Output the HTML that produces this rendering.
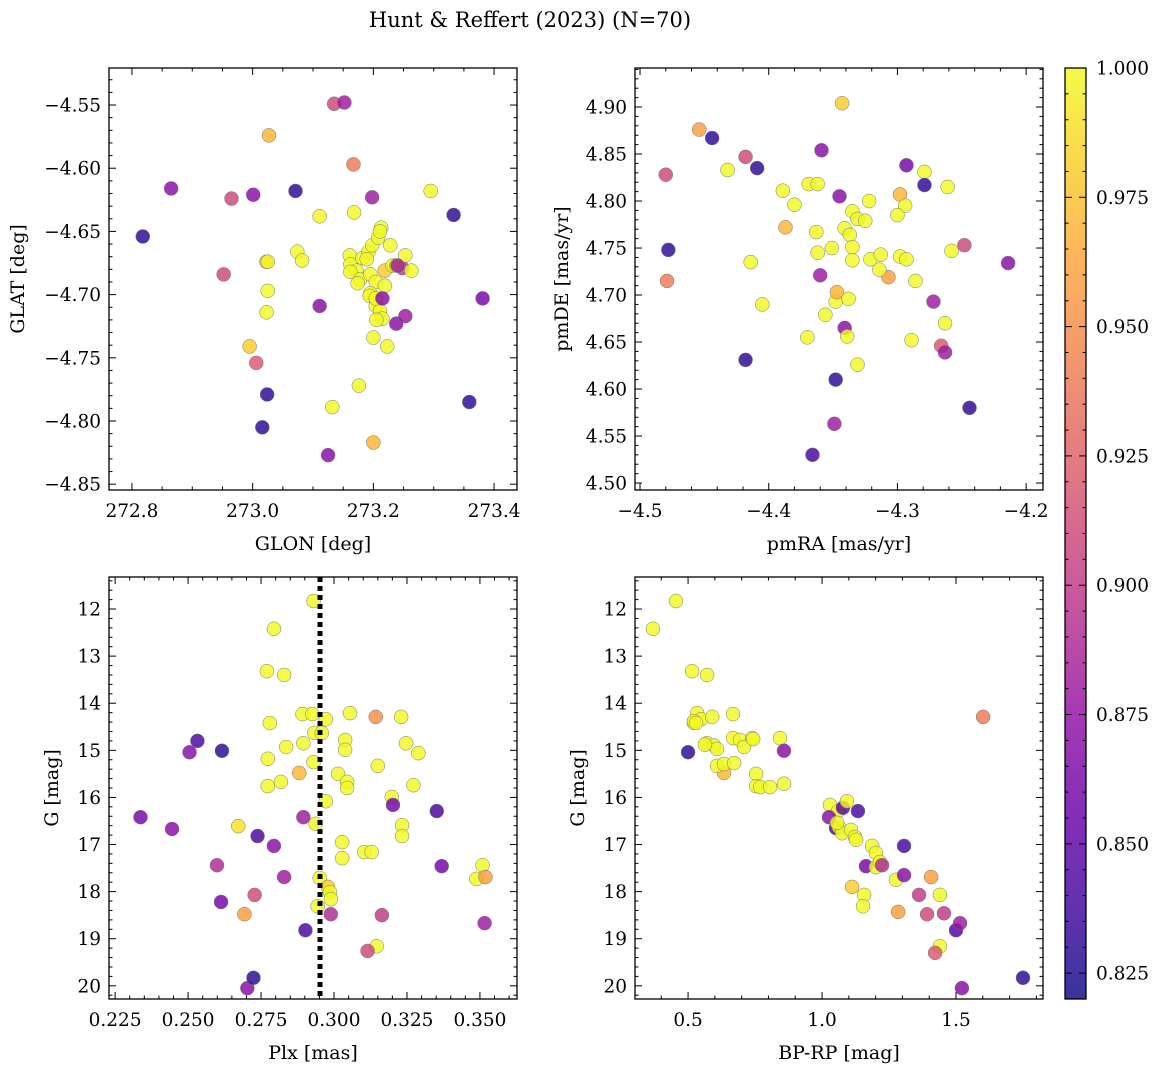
<!DOCTYPE html>
<html><head><meta charset="utf-8">
<style>
html,body{margin:0;padding:0;background:#fff;}
svg{display:block;font-family:"DejaVu Serif","Liberation Serif",serif;}
</style></head>
<body>
<svg id="chart" width="1161" height="1067" viewBox="0 0 1161 1067" xmlns="http://www.w3.org/2000/svg">
<defs>
<linearGradient id="plasma" x1="0" y1="1" x2="0" y2="0">
<stop offset="0" stop-color="#0d0887"/><stop offset="0.1" stop-color="#41049d"/><stop offset="0.2" stop-color="#6a00a8"/><stop offset="0.3" stop-color="#8f0da4"/><stop offset="0.4" stop-color="#b12a90"/><stop offset="0.5" stop-color="#cc4778"/><stop offset="0.6" stop-color="#e16462"/><stop offset="0.7" stop-color="#f2844b"/><stop offset="0.8" stop-color="#fca636"/><stop offset="0.9" stop-color="#fcce25"/><stop offset="1" stop-color="#f0f921"/>
</linearGradient>
</defs>
<text x="530" y="27" font-size="21" text-anchor="middle">Hunt &amp; Reffert (2023) (N=70)</text>
</svg>
<script>
// ---- data (panel 1: GLON/GLAT) ----
const p1Glon=[272.818,272.865,272.965,273.001,273.071,272.952,273.027,273.135,273.152,273.167,273.198,273.295,273.333,273.111,273.168,273.074,273.082,273.023,273.025,273.025,273.023,273.111,273.381,272.995,273.006,273.024,273.016,273.132,273.176,273.125,273.200,273.359,273.200,273.223,273.161,273.162,273.172,273.182,273.192,273.198,273.208,273.213,273.211,273.228,273.162,273.178,273.195,273.204,273.219,273.232,273.248,273.253,273.263,273.238,273.195,273.204,273.211,273.215,273.205,273.174,273.189,273.194,273.204,273.219,273.215,273.238,273.253,273.240];
const p1Glat=[-4.654,-4.616,-4.624,-4.621,-4.618,-4.684,-4.574,-4.549,-4.548,-4.597,-4.623,-4.618,-4.637,-4.638,-4.635,-4.666,-4.673,-4.674,-4.674,-4.697,-4.714,-4.709,-4.703,-4.741,-4.754,-4.779,-4.805,-4.789,-4.772,-4.827,-4.817,-4.785,-4.734,-4.741,-4.669,-4.676,-4.681,-4.671,-4.666,-4.661,-4.655,-4.647,-4.650,-4.661,-4.682,-4.688,-4.684,-4.690,-4.681,-4.677,-4.679,-4.669,-4.681,-4.677,-4.699,-4.709,-4.713,-4.719,-4.720,-4.691,-4.672,-4.701,-4.703,-4.693,-4.703,-4.723,-4.717,-4.677];
const p1Prob=[.83,.87,.91,.87,.83,.91,.97,.91,.88,.94,.88,1,.83,1,1,1,1,.97,1,1,1,.87,.86,.98,.92,.83,.83,1,1,.87,.97,.83,1,1,1,1,1,1,1,1,1,1,1,1,1,1,1,1,.98,1,.9,1,1,1,1,1,1,1,1,1,1,1,1,1,.87,.87,.88,.88];
// ---- data (panel 2: pmRA/pmDE) ----
const p2PmRA=[-4.478,-4.479,-4.480,-4.454,-4.444,-4.432,-4.418,-4.409,-4.389,-4.380,-4.387,-4.369,-4.362,-4.359,-4.343,-4.345,-4.335,-4.331,-4.325,-4.322,-4.341,-4.363,-4.351,-4.362,-4.360,-4.337,-4.335,-4.335,-4.321,-4.313,-4.307,-4.314,-4.298,-4.293,-4.298,-4.294,-4.300,-4.293,-4.279,-4.279,-4.261,-4.286,-4.258,-4.248,-4.214,-4.272,-4.266,-4.263,-4.263,-4.289,-4.244,-4.348,-4.349,-4.366,-4.418,-4.414,-4.405,-4.370,-4.356,-4.348,-4.347,-4.341,-4.339,-4.338,-4.331];
const p2PmDE=[4.748,4.715,4.828,4.876,4.867,4.833,4.847,4.835,4.811,4.796,4.772,4.818,4.818,4.854,4.904,4.805,4.789,4.781,4.779,4.800,4.771,4.767,4.750,4.745,4.721,4.764,4.751,4.737,4.738,4.743,4.719,4.727,4.741,4.738,4.807,4.795,4.785,4.838,4.831,4.817,4.815,4.715,4.747,4.753,4.734,4.693,4.646,4.639,4.670,4.652,4.580,4.610,4.563,4.530,4.631,4.735,4.690,4.655,4.679,4.693,4.703,4.665,4.656,4.696,4.626];
const p2Prob=[.83,.94,.91,.96,.83,1,.91,.83,1,1,.97,1,1,.87,.98,.87,1,1,1,1,1,1,1,1,.88,1,1,1,1,1,.96,1,1,1,.97,1,1,.86,1,.83,1,1,1,.91,.87,.88,.92,.88,1,1,.83,.83,.88,.84,.83,1,1,1,1,1,.97,.87,1,1,1];
// ---- data (panel 3: Plx/G) ----
const p3Plx=[.2337,.2445,.2505,.2532,.2616,.2599,.2613,.2693,.2728,.2738,.2703,.2724,.2672,.2794,.2770,.2829,.2780,.2773,.2773,.2836,.2818,.2794,.2829,.2881,.2892,.2895,.2926,.2933,.2930,.2895,.2902,.2930,.2937,.2951,.2944,.2972,.2972,.2979,.2986,.2989,.2989,.2958,.3014,.3028,.3028,.3038,.3038,.3045,.3045,.3055,.3104,.3129,.3143,.3150,.3164,.3146,.3115,.3198,.3202,.3230,.3233,.3233,.3247,.3289,.3272,.3352,.3369,.3488,.3509,.3519,.3516];
const p3G=[16.42,16.67,15.04,14.80,15.01,17.44,18.22,18.48,18.07,16.82,20.05,19.83,16.61,12.42,13.32,13.40,14.42,15.18,15.76,14.93,15.67,17.03,17.69,15.48,14.23,14.85,14.23,14.63,15.25,16.42,18.82,11.83,16.56,17.71,18.31,14.34,16.08,17.90,18.01,18.48,18.16,14.63,15.50,16.95,17.29,14.78,14.99,15.67,15.80,14.21,17.16,17.16,14.29,15.33,18.50,19.16,19.26,15.99,16.16,14.29,16.59,16.82,14.85,15.06,15.74,16.29,17.46,17.73,17.44,17.69,18.67];
const p3Prob=[.86,.87,.87,.84,.83,.89,.86,.96,.91,.84,.87,.83,.99,1,1,1,1,1,1,1,1,.87,.88,.97,1,1,1,1,1,.88,.84,1,1,1,1,1,1,.98,1,.89,1,1,1,1,1,1,1,1,1,1,1,1,.95,1,.9,1,.91,1,.86,1,1,1,1,1,1,.84,.86,1,1,.96,.88];
const plxLine=[0.2952];
// ---- data (panel 4: BP-RP/G) ----
const p4BpRp=[.369,.455,.515,.571,.534,.522,.549,.590,.522,.530,.571,.597,.608,.563,.500,.634,.608,.634,.672,.668,.668,.694,.739,.709,.743,.754,.754,.769,.806,.858,.843,.858,1.030,1.060,1.078,1.093,1.026,1.052,1.063,1.075,1.108,1.123,1.127,1.056,1.134,1.164,1.201,1.187,1.201,1.216,1.224,1.276,1.306,1.306,1.284,1.407,1.362,1.392,1.440,1.455,1.440,1.422,1.500,1.515,1.522,1.601,1.750,1.157,1.153,1.112];
const p4G=[12.42,11.83,13.32,13.40,14.21,14.42,14.34,14.29,14.38,14.42,14.85,14.90,14.97,14.88,15.04,15.48,15.33,15.29,15.27,14.23,14.74,14.78,14.74,14.93,14.76,15.50,15.76,15.78,15.78,15.71,14.74,15.01,16.16,16.29,16.22,16.08,16.42,16.65,16.63,16.76,16.69,16.84,16.90,16.54,16.29,17.46,17.48,17.03,17.18,17.37,17.44,17.75,17.03,17.65,18.43,17.69,18.07,18.48,18.07,18.46,19.16,19.30,18.82,18.67,20.05,14.29,19.83,18.07,18.31,17.90];
const p4Prob=[1,1,1,1,1,1,1,1,1,1,1,1,1,1,.83,.97,1,1,1,1,1,1,1,1,1,1,1,1,1,1,1,.87,1,1,.85,1,.87,.84,1,1,1,1,1,1,.84,.86,1,1,1,1,.89,1,.84,.87,.96,.96,.9,.91,1,.9,1,.92,.84,.88,.87,.94,.83,1,1,.98];
// ---- tick labels ----
const p1XTicks=[272.8,273.0,273.2,273.4];
const p1YTicks=[-4.55,-4.60,-4.65,-4.70,-4.75,-4.80,-4.85];
const p2XTicks=[-4.5,-4.4,-4.3,-4.2];
const p2YTicks=[4.50,4.55,4.60,4.65,4.70,4.75,4.80,4.85,4.90];
const p3XTicks=[0.225,0.250,0.275,0.300,0.325,0.350];
const gTicks=[12,13,14,15,16,17,18,19,20];
const p4XTicks=[0.5,1.0,1.5];
const cbTicks=[0.825,0.850,0.875,0.900,0.925,0.950,0.975,1.000];
const cbRange=[0.82,1.0];

const NS="http://www.w3.org/2000/svg";
const svg=document.getElementById('chart');
const TF=18.5, LF=19;
function mk(tag,attrs,parent){const e=document.createElementNS(NS,tag);for(const k in attrs)e.setAttribute(k,attrs[k]);(parent||svg).appendChild(e);return e;}
const stops=[[13,8,135],[65,4,157],[106,0,168],[143,13,164],[177,42,144],[204,71,120],[225,100,98],[242,132,75],[252,166,54],[252,206,37],[240,249,33]];
function plasma(p){let t=(p-cbRange[0])/(cbRange[1]-cbRange[0]);t=Math.max(0,Math.min(1,t))*10;const i=Math.min(9,Math.floor(t)),f=t-i;const a=stops[i],b=stops[i+1];return 'rgb('+[0,1,2].map(k=>Math.round(a[k]+(b[k]-a[k])*f)).join(',')+')';}
function fmt(v,d){return (v<0?'\u2212':'')+Math.abs(v).toFixed(d);}

function panel(name,box,xd,yd,xt,xdec,xsub,yt,ydec,xs,ys,ps,xlabel,ylabel,ylabX){
  const g=mk('g',{});
  
  
  const sx=v=>box.x+(v-xd[0])/(xd[1]-xd[0])*box.w;
  const sy=v=>box.y+(v-yd[0])/(yd[1]-yd[0])*box.h;
  const pts=mk('g',{},g);
  
  
  for(let i=0;i<xs.length;i++){
    const c=mk('circle',{cx:sx(xs[i]),cy:sy(ys[i]),r:7,fill:plasma(ps[i]),'fill-opacity':0.82,stroke:'#777','stroke-width':0.5},pts);
    
    
  }
  const fr=mk('rect',{x:box.x,y:box.y,width:box.w,height:box.h,fill:'none',stroke:'#000','stroke-width':1.3},g);
  
  
  const tk=mk('g',{stroke:'#000','stroke-width':1},g);
  const xstep=xt[1]-xt[0], ystep=yt[1]-yt[0];
  const xlo=Math.min(xd[0],xd[1]),xhi=Math.max(xd[0],xd[1]),ylo=Math.min(yd[0],yd[1]),yhi=Math.max(yd[0],yd[1]);
  for(let k=-20;k<=(xt.length+20)*xsub;k++){const v=xt[0]+k*xstep/xsub;if(v<xlo-1e-9||v>xhi+1e-9)continue;const L=(k%xsub===0)?7:3.5;const X=sx(v);
    mk('line',{x1:X,x2:X,y1:box.y+box.h,y2:box.y+box.h-L},tk);mk('line',{x1:X,x2:X,y1:box.y,y2:box.y+L},tk);}
  for(let k=-20;k<=(yt.length+20)*5;k++){const v=yt[0]+k*ystep/5;if(v<ylo-1e-9||v>yhi+1e-9)continue;const L=(k%5===0)?7:3.5;const Y=sy(v);
    mk('line',{y1:Y,y2:Y,x1:box.x,x2:box.x+L},tk);mk('line',{y1:Y,y2:Y,x1:box.x+box.w,x2:box.x+box.w-L},tk);}
  xt.forEach(v=>{const t=mk('text',{x:sx(v),y:box.y+box.h+27,'font-size':TF,'text-anchor':'middle'},g);t.textContent=fmt(v,xdec);
    
    });
  yt.forEach(v=>{const t=mk('text',{x:box.x-8,y:sy(v)+6.5,'font-size':TF,'text-anchor':'end'},g);t.textContent=fmt(v,ydec);
    
    });
  const xl=mk('text',{x:box.x+box.w/2,y:box.y+box.h+60,'font-size':LF,'text-anchor':'middle'},g);xl.textContent=xlabel;
  
  
  const cy=box.y+box.h/2;
  const yl=mk('text',{x:ylabX,y:cy,'font-size':LF,'text-anchor':'middle',transform:'rotate(-90 '+ylabX+' '+cy+')'},g);yl.textContent=ylabel;
  
  
  return {sx,sy,g};
}
panel('glon-glat-panel',{x:109,y:68,w:408,h:422},[272.762,273.438],[-4.5207,-4.8546],p1XTicks,1,4,p1YTicks,2,p1Glon,p1Glat,p1Prob,'GLON [deg]','GLAT [deg]',24);
panel('proper-motion-panel',{x:635,y:68,w:408,h:422},[-4.5039,-4.1869],[4.9415,4.4926],p2XTicks,1,5,p2YTicks,2,p2PmRA,p2PmDE,p2Prob,'pmRA [mas/yr]','pmDE [mas/yr]',568);
const p3=panel('parallax-panel',{x:109,y:577,w:408,h:422},[0.2229,0.3627],[11.32,20.28],p3XTicks,3,5,gTicks,0,p3Plx,p3G,p3Prob,'Plx [mas]','G [mag]',58);
plxLine.forEach(v=>{const l=mk('line',{x1:p3.sx(v),x2:p3.sx(v),y1:577,y2:999,stroke:'#000','stroke-width':5,'stroke-dasharray':'5 4'},p3.g);
  
  });
panel('cmd-panel',{x:635,y:577,w:408,h:422},[0.302,1.8246],[11.32,20.28],p4XTicks,1,5,gTicks,0,p4BpRp,p4G,p4Prob,'BP-RP [mag]','G [mag]',584);

// colorbar
const cb=mk('g',{});


const cbB={x:1065,y:68,w:21,h:931};
mk('rect',{x:cbB.x,y:cbB.y,width:cbB.w,height:cbB.h,fill:'url(#plasma)','fill-opacity':0.82},cb);
mk('rect',{x:cbB.x,y:cbB.y,width:cbB.w,height:cbB.h,fill:'none',stroke:'#000','stroke-width':1.3},cb);
const cy=v=>cbB.y+cbB.h-(v-cbRange[0])/(cbRange[1]-cbRange[0])*cbB.h;
for(let k=-1;k<=40;k++){const v=cbTicks[0]+k*0.005;if(v<cbRange[0]-1e-9||v>cbRange[1]+1e-9)continue;const L=(k%5===0)?7:3.5;const Y=cy(v);
  mk('line',{x1:cbB.x,x2:cbB.x+L,y1:Y,y2:Y,stroke:'#000'},cb);mk('line',{x1:cbB.x+cbB.w,x2:cbB.x+cbB.w-L,y1:Y,y2:Y,stroke:'#000'},cb);}
cbTicks.forEach(v=>{const t=mk('text',{x:1096,y:cy(v)+6.5,'font-size':TF},cb);t.textContent=v.toFixed(3);
  
  });
</script>
</body></html>
